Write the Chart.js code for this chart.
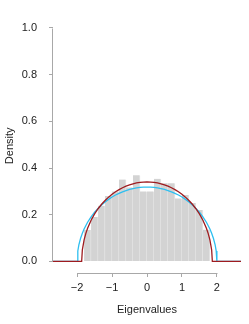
<!DOCTYPE html>
<html>
<head>
<meta charset="utf-8">
<script src="https://cdn.jsdelivr.net/npm/chart.js@4.4.1/dist/chart.umd.min.js"></script>
<style>
  html, body { margin: 0; padding: 0; background: #fff; }
  #wrap { width: 249px; height: 324px; position: relative; }
</style>
</head>
<body>
<div id="wrap"><canvas id="chartEigen"></canvas></div>
<script>
// Histogram bins (centres, width 0.2) and density heights
const binCenters = [-1.7, -1.5, -1.3, -1.1, -0.9, -0.7, -0.5, -0.3, -0.1, 0.1, 0.3, 0.5, 0.7, 0.9, 1.1, 1.3, 1.5, 1.7];
const binDensity = [0.135, 0.19, 0.238, 0.28, 0.30, 0.351, 0.317, 0.369, 0.30, 0.30, 0.354, 0.335, 0.335, 0.27, 0.284, 0.25, 0.22, 0.136];

// Blue curve (semicircle, radius 2)
const blueX = [-2.69, -2.0, -1.98, -1.95, -1.9, -1.85, -1.8, -1.7, -1.6, -1.5, -1.4, -1.3, -1.2, -1.1, -1.0, -0.9, -0.8, -0.7, -0.6, -0.5, -0.4, -0.3, -0.2, -0.1, 0,
               0.1, 0.2, 0.3, 0.4, 0.5, 0.6, 0.7, 0.8, 0.9, 1.0, 1.1, 1.2, 1.3, 1.4, 1.5, 1.6, 1.7, 1.8, 1.85, 1.9, 1.95, 1.98, 2.0, 2.69];
const blueY = [0, 0, 0.0449, 0.0707, 0.0994, 0.1209, 0.1388, 0.1677, 0.1910, 0.2105, 0.2273, 0.2419, 0.2546, 0.2658, 0.2757, 0.2843, 0.2917, 0.2982, 0.3036, 0.3082, 0.3119, 0.3147, 0.3167, 0.3179, 0.3183,
               0.3179, 0.3167, 0.3147, 0.3119, 0.3082, 0.3036, 0.2982, 0.2917, 0.2843, 0.2757, 0.2658, 0.2546, 0.2419, 0.2273, 0.2105, 0.1910, 0.1677, 0.1388, 0.1209, 0.0994, 0.0707, 0.0449, 0, 0];

// Red curve (fitted semicircle)
const redX = [-2.69, -1.87, -1.85, -1.8, -1.75, -1.7, -1.6, -1.5, -1.4, -1.3, -1.2, -1.1, -1.0, -0.9, -0.8, -0.7, -0.6, -0.5, -0.4, -0.3, -0.2, -0.1, 0,
              0.1, 0.2, 0.3, 0.4, 0.5, 0.6, 0.7, 0.8, 0.9, 1.0, 1.1, 1.2, 1.3, 1.4, 1.5, 1.6, 1.7, 1.75, 1.8, 1.85, 1.87, 2.69];
const redY = [0, 0, 0.0497, 0.0923, 0.1200, 0.1418, 0.1762, 0.2033, 0.2257, 0.2447, 0.2611, 0.2753, 0.2877, 0.2984, 0.3077, 0.3157, 0.3224, 0.3280, 0.3326, 0.3360, 0.3385, 0.3399, 0.3404,
              0.3399, 0.3385, 0.3360, 0.3326, 0.3280, 0.3224, 0.3157, 0.3077, 0.2984, 0.2877, 0.2753, 0.2611, 0.2447, 0.2257, 0.2033, 0.1762, 0.1418, 0.1200, 0.0923, 0.0497, 0, 0];

// Axis ticks
const xTicks = [-2, -1, 0, 1, 2];
const yTicks = [0, 0.2, 0.4, 0.6, 0.8, 1.0];

const axisColor = '#a8a8a8';
const textColor = '#222';
const fontSpec = { family: '"Liberation Sans", Arial, sans-serif', size: 11 };

// Axis lines drawn only between first and last tick (R style)
const axisLines = {
    id: 'axisLines',
    afterDraw(chart) {
        const ctx = chart.ctx;
        const sx = chart.scales.x;
        const sy = chart.scales.y;
        ctx.save();
        ctx.strokeStyle = axisColor;
        ctx.lineWidth = 1;
        ctx.beginPath();
        const lx = Math.round(sx.left) - 0.5;
        ctx.moveTo(lx, Math.round(sy.getPixelForValue(yTicks[0])) + 0.5);
        ctx.lineTo(lx, Math.round(sy.getPixelForValue(yTicks[yTicks.length - 1])) + 0.5);
        const by = Math.round(sx.top) + 0.5;
        ctx.moveTo(Math.round(sx.getPixelForValue(xTicks[0])) + 0.5, by);
        ctx.lineTo(Math.round(sx.getPixelForValue(xTicks[xTicks.length - 1])) + 0.5, by);
        ctx.stroke();
        ctx.restore();
    }
};

const ctxEigen = document.getElementById('chartEigen');

new Chart(ctxEigen, {
    type: 'bar',
    data: {
        datasets: [
            {
                type: 'line',
                data: blueX.map((x, i) => ({ x: x, y: blueY[i] })),
                borderColor: '#2ebff0',
                borderWidth: 1.3,
                pointRadius: 0,
                tension: 0,
                order: 1
            },
            {
                type: 'line',
                data: redX.map((x, i) => ({ x: x, y: redY[i] })),
                borderColor: '#9e1b1f',
                borderWidth: 1.3,
                pointRadius: 0,
                tension: 0,
                order: 0
            },
            {
                type: 'bar',
                data: binCenters.map((x, i) => ({ x: x, y: binDensity[i] })),
                backgroundColor: '#d3d3d3',
                borderColor: '#e6e6e6',
                borderWidth: { left: 0, right: 1, top: 0, bottom: 0 },
                borderSkipped: false,
                barPercentage: 1,
                categoryPercentage: 1,
                grouped: false,
                order: 2
            }
        ]
    },
    options: {
        responsive: true,
        maintainAspectRatio: false,
        animation: false,
        events: [],
        layout: { padding: { top: 9, right: 8, left: 0, bottom: 0 } },
        plugins: {
            legend: { display: false },
            tooltip: { enabled: false }
        },
        scales: {
            x: {
                type: 'linear',
                min: -2.69,
                max: 2.69,
                offset: false,
                afterBuildTicks: (scale) => { scale.ticks = xTicks.map(v => ({ value: v })); },
                afterFit: (scale) => { scale.height = 51; },
                border: { display: false },
                grid: { offset: false, drawOnChartArea: false, drawTicks: true, tickLength: 4, color: axisColor },
                ticks: {
                    padding: 4,
                    color: textColor,
                    font: fontSpec,
                    maxRotation: 0,
                    callback: (v) => (v < 0 ? '\u2212' + Math.abs(v) : String(v))
                },
                title: {
                    display: true,
                    text: 'Eigenvalues',
                    color: textColor,
                    font: fontSpec,
                    padding: { top: 0, bottom: 7 }
                }
            },
            y: {
                min: -0.0496,
                max: 1.04,
                afterBuildTicks: (scale) => { scale.ticks = yTicks.map(v => ({ value: v })); },
                afterFit: (scale) => { scale.width = 53; },
                border: { display: false },
                grid: { drawOnChartArea: false, drawTicks: true, tickLength: 4, color: axisColor },
                ticks: {
                    padding: 12,
                    color: textColor,
                    font: fontSpec,
                    callback: (v) => v.toFixed(1)
                },
                title: {
                    display: true,
                    text: 'Density',
                    color: textColor,
                    font: fontSpec,
                    padding: { top: 3.5, bottom: 0 }
                }
            }
        }
    },
    plugins: [axisLines]
});
</script>
</body>
</html>
